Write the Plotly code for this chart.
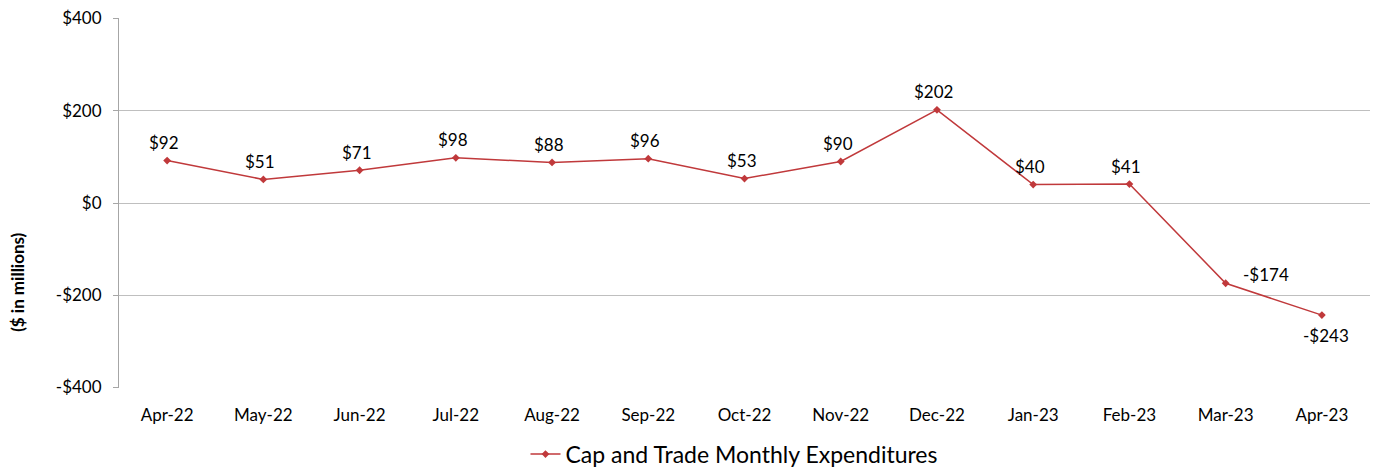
import plotly.graph_objects as go

months = ["Apr-22", "May-22", "Jun-22", "Jul-22", "Aug-22", "Sep-22", "Oct-22",
          "Nov-22", "Dec-22", "Jan-23", "Feb-23", "Mar-23", "Apr-23"]
values = [92, 51, 71, 98, 88, 96, 53, 90, 202, 40, 41, -174, -243]
labels = [("-$%d" % -v) if v < 0 else ("$%d" % v) for v in values]
y_ticks = [-400, -200, 0, 200, 400]
y_tick_text = ["-$400", "-$200", "$0", "$200", "$400"]

FONT = "Lato, Open Sans, sans-serif"
color = "#C0393B"
fig = go.Figure()
fig.add_trace(go.Scatter(
    x=months, y=values, mode="lines+markers",
    name="Cap and Trade Monthly Expenditures",
    line=dict(color=color, width=1.5),
    marker=dict(symbol="diamond", size=6, color=color),
))

# data labels
for i, (m, v, t) in enumerate(zip(months, values, labels)):
    xs, ys = -3, 18
    if m == "Mar-23":
        xs, ys = 40, 9
    elif m == "Apr-23":
        xs, ys = 4, -20
    fig.add_annotation(x=m, y=v, text=t, showarrow=False, xshift=xs, yshift=ys,
                       font=dict(size=17, color="#000000", family=FONT))

# y-axis title (placed like the original, below the plot's middle)
fig.add_annotation(xref="paper", yref="paper", x=-0.081, y=0.286,
                   text="<b>($ in millions)</b>", textangle=-90, showarrow=False,
                   xanchor="center", yanchor="middle",
                   font=dict(size=17, color="#000000", family=FONT))

fig.update_layout(
    width=1380, height=469,
    margin=dict(l=111, r=18, t=10, b=89, autoexpand=False),
    plot_bgcolor="white", paper_bgcolor="white",
    font=dict(family=FONT, color="#000000", size=17),
    showlegend=True,
    legend=dict(orientation="h", x=0.492, xanchor="center", y=-0.2368, yanchor="bottom",
                font=dict(size=23)),
    xaxis=dict(range=[-0.5, 12.5], showgrid=False, showline=False, ticks="",
               tickfont=dict(size=17), ticklabelstandoff=15),
    yaxis=dict(range=[-401, 401], tickvals=y_ticks, ticktext=y_tick_text,
               showgrid=True, gridcolor="#BFBFBF", gridwidth=1,
               showline=True, linecolor="#A6A6A6", linewidth=1,
               ticks="outside", ticklen=5, tickcolor="#A6A6A6",
               zeroline=False, tickfont=dict(size=17),
               ticklabelstandoff=8, ticklabeloverflow="allow"),
)
fig.write_html("out.html")
